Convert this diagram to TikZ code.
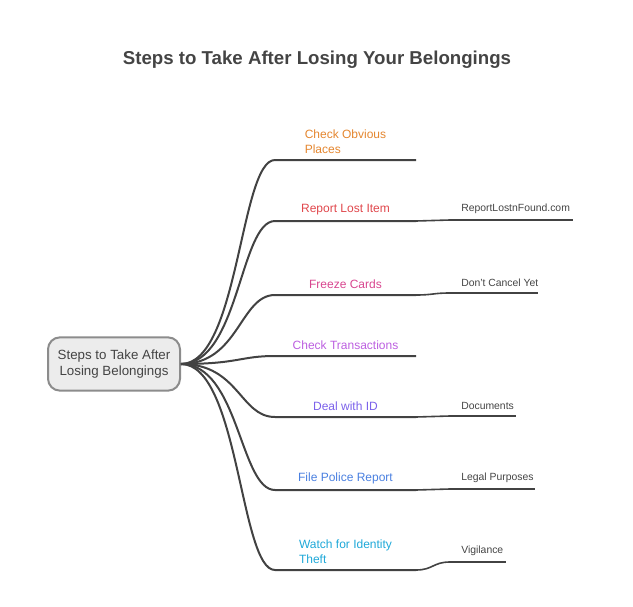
\documentclass[tikz,border=0pt]{standalone}
\usepackage{fontspec}
\setmainfont{Liberation Sans}
\usetikzlibrary{positioning}

\definecolor{linegray}{HTML}{424242}
\definecolor{titlegray}{HTML}{444444}
\definecolor{rootfill}{HTML}{ECECEC}
\definecolor{rootdraw}{HTML}{8C8C8C}
\definecolor{obvious}{HTML}{E4862F}
\definecolor{report}{HTML}{E0474C}
\definecolor{freeze}{HTML}{D8468F}
\definecolor{transact}{HTML}{BC5FE0}
\definecolor{idcol}{HTML}{7B61EA}
\definecolor{police}{HTML}{4A80E0}
\definecolor{theft}{HTML}{1EA8D8}

\begin{document}
\begin{tikzpicture}[x=0.75pt, y=-0.75pt
        , branch/.style={draw=linegray, line width=1.5pt}
        , twig/.style={draw=linegray, line width=1.2pt}
        , rootbox/.style={draw=rootdraw, line width=1.5pt, fill=rootfill,
            rounded corners=9pt, minimum width=99pt, minimum height=40pt,
            align=center, text=titlegray, font=\fontsize{10}{12}\selectfont}
        , steplabel/.style={inner sep=0pt, align=left,
            font=\fontsize{9}{11}\selectfont}
        , leaflabel/.style={inner sep=0pt, text=titlegray,
            font=\fontsize{7.8}{9.5}\selectfont}
        ]

        \useasboundingbox (0,0) rectangle (633,607);

        \node[font=\bfseries\fontsize{14}{17}\selectfont, text=titlegray] (title)
            at (317,60) {Steps to Take After Losing Your Belongings};

        \node[rootbox] (root) at (114,364) {Steps to Take After\\Losing Belongings};

        % main branches fan out of the root
        \foreach \n/\y/\c/\t in {1/160/obvious/{Check Obvious\\Places},
                2/221/report/{Report Lost Item},
                3/295/freeze/{Freeze Cards},
                4/356/transact/{Check Transactions},
                5/417/idcol/{Deal with ID},
                6/490/police/{File Police Report},
                7/570/theft/{Watch for Identity\\Theft}} {
            \coordinate (b\n s) at (275,\y);
            \coordinate (b\n m) at (345.5,\y);
            \coordinate (b\n e) at (416,\y);
            \draw[branch] (root.east) .. controls +(58,0) and +(-35,0) .. (b\n s)
                -- (b\n e);
            \node[steplabel, text=\c, above=4.5pt of b\n m] (t\n) {\t};
        }

        % details hang off the end of some branches
        \foreach \n/\y/\x/\t in {2/220/573/ReportLostnFound.com,
                3/293/538/Don't Cancel Yet,
                5/416/516/Documents,
                6/489/535/Legal Purposes,
                7/562/506/Vigilance} {
            \coordinate (l\n s) at (450,\y);
            \coordinate (l\n e) at (\x,\y);
            \draw[twig] (b\n e) .. controls +(17,0) and +(-17,0) .. (l\n s);
            \draw[branch] (l\n s) -- (l\n e);
            \node[leaflabel, anchor=south west] (d\n) at (461,\y-6) {\t};
        }

    \end{tikzpicture}
\end{document}
